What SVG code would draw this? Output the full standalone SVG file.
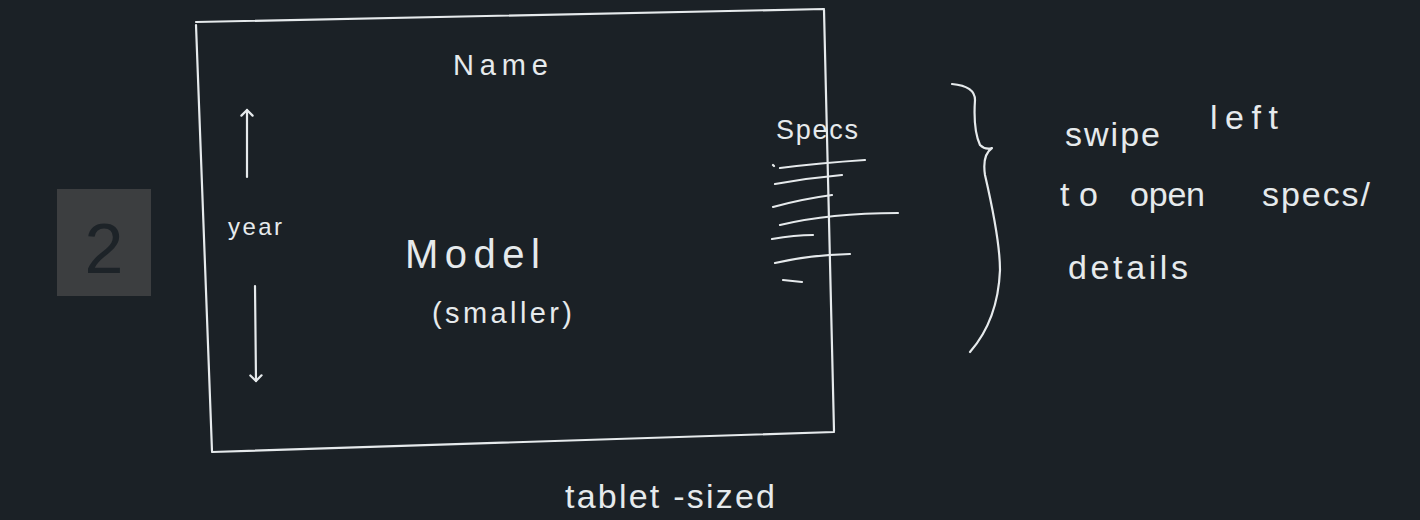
<svg xmlns="http://www.w3.org/2000/svg" width="1420" height="520" viewBox="0 0 1420 520">
<style>
.ink{fill:none;stroke:#e6eaec;stroke-width:2.2;stroke-linecap:round;stroke-linejoin:round}
.t{fill:#e6eaec;font-family:"Liberation Sans","DejaVu Sans",sans-serif}
</style>
<defs>
<marker id="ah" viewBox="0 0 10 10" refX="5" refY="5" markerWidth="14" markerHeight="14" markerUnits="userSpaceOnUse" orient="auto">
<path d="M1,1 L5,5 L1,9" fill="none" stroke="#e6eaec" stroke-width="1.6" stroke-linecap="round"/>
</marker>
</defs>
<rect width="1420" height="520" fill="#1b2126"/>
<g id="badge">
<rect x="57" y="189" width="94" height="107" fill="#3c3e40"/>
<text x="104" y="273" text-anchor="middle" font-size="70" font-family="Liberation Sans,sans-serif" fill="#1d2328">2</text>
</g>
<g id="tablet">
<path class="ink" d="M196,22 L824,9 M824,10 L834,431 M834,432 L212,452 M212,451 L196,25"/>
<text class="t" x="453" y="75" font-size="29" textLength="95">Name</text>
<text class="t" x="228" y="235" font-size="24" textLength="54">year</text>
<text class="t" x="405" y="268" font-size="40" textLength="135">Model</text>
<text class="t" x="432" y="323" font-size="29" textLength="140">(smaller)</text>
<text class="t" x="776" y="139" font-size="27" textLength="82">Specs</text>
</g>
<g id="specs">
<path class="ink" d="M773,165 L774,166 M780,168 Q820,163 865,160 M775,184 Q808,178 842,175 M773,207 Q802,199 832,195 M780,225 Q830,213 898,213 M772,239 Q795,235 813,235 M775,263 Q810,255 850,254 M783,280 L802,282"/>
</g>
<g id="note">
<path class="ink" d="M952,84 Q975,86 975,100 Q973,130 980,145 Q985,150 992,148 Q982,155 985,175 Q1000,240 1000,270 Q998,320 970,352"/>
<text class="t" x="1065" y="146" font-size="34" textLength="95">swipe</text>
<text class="t" x="1210" y="129" font-size="34" textLength="68">left</text>
<text class="t" x="1060" y="206" font-size="34" textLength="38">to</text>
<text class="t" x="1130" y="206" font-size="34" textLength="75">open</text>
<text class="t" x="1262" y="206" font-size="34" textLength="108">specs/</text>
<text class="t" x="1068" y="279" font-size="34" textLength="120">details</text>
</g>
<g id="caption">
<text class="t" x="565" y="508" font-size="34" textLength="210">tablet -sized</text>
</g>
<g id="connectors">
<path class="ink" d="M247,177 L247,110" marker-end="url(#ah)"/>
<path class="ink" d="M255,286 L256,381" marker-end="url(#ah)"/>
</g>
</svg>
